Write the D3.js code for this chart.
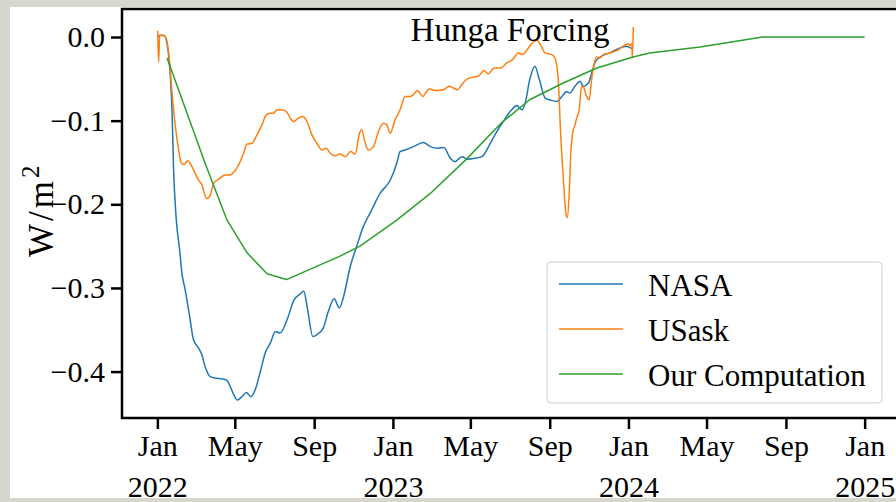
<!DOCTYPE html>
<html>
<head>
<meta charset="utf-8">
<script src="https://cdn.jsdelivr.net/npm/d3@7"></script>
<style>
  body { margin: 0; background: #d7d7cd; }
  svg { display: block; }
  text { font-family: "Liberation Serif", "Times New Roman", serif; fill: #000; }
</style>
</head>
<body>
<svg width="896" height="502"></svg>
<script>
// [days after 2022-01-01, forcing in W/m^2]
const nasa = [[0,0.000],[5,0.002],[11,0.001],[15,-0.008],[19,-0.035],[23,-0.095],[25,-0.155],[29,-0.215],[35,-0.258],[38,-0.282],
  [43,-0.302],[50,-0.334],[56,-0.362],[64,-0.372],[69,-0.380],[74,-0.394],[82,-0.406],[92,-0.408],[107,-0.410],[113,-0.418],
  [118,-0.427],[124,-0.434],[131,-0.430],[138,-0.425],[145,-0.430],[152,-0.421],[159,-0.402],[167,-0.378],[175,-0.366],[183,-0.352],
  [190,-0.354],[201,-0.338],[212,-0.314],[220,-0.308],[227,-0.304],[232,-0.322],[241,-0.358],[247,-0.356],[257,-0.348],[265,-0.328],
  [274,-0.313],[282,-0.324],[288,-0.312],[299,-0.274],[309,-0.250],[319,-0.227],[332,-0.207],[345,-0.187],[361,-0.171],[371,-0.151],
  [376,-0.137],[384,-0.135],[397,-0.131],[412,-0.126],[423,-0.131],[435,-0.133],[444,-0.132],[454,-0.145],[461,-0.149],[472,-0.143],
  [480,-0.146],[492,-0.145],[503,-0.143],[516,-0.127],[526,-0.113],[536,-0.101],[549,-0.087],[557,-0.082],[565,-0.087],[570,-0.079],
  [577,-0.051],[585,-0.035],[592,-0.051],[601,-0.073],[608,-0.075],[619,-0.077],[627,-0.071],[634,-0.065],[639,-0.067],[647,-0.059],
  [655,-0.053],[660,-0.059],[668,-0.055],[673,-0.043],[678,-0.031],[686,-0.024],[701,-0.019],[714,-0.014],[727,-0.011],[735,-0.014]];

const usask = [[0.5,0.0075],[2,-0.030],[3.6,0.002],[9.8,0.002],[13.9,-0.002],[17.5,-0.019],[22.8,-0.067],[27.9,-0.107],[33,-0.135],[37.2,-0.151],
  [41.8,-0.152],[46.9,-0.148],[52.2,-0.153],[57.3,-0.161],[63.9,-0.171],[69.2,-0.177],[72.8,-0.187],[76.9,-0.193],[82,-0.189],[87.2,-0.175],
  [94.9,-0.170],[105.3,-0.165],[111.9,-0.165],[119.2,-0.161],[125.9,-0.153],[133.6,-0.139],[138.9,-0.128],[146.6,-0.127],[154.3,-0.117],[162.1,-0.105],
  [168.7,-0.093],[174.9,-0.091],[180,-0.091],[185.3,-0.087],[193,-0.087],[200.8,-0.090],[205.9,-0.097],[211,-0.101],[218.7,-0.097],[225.5,-0.095],
  [231.7,-0.101],[239.5,-0.117],[247.2,-0.127],[255,-0.135],[261.6,-0.133],[267.8,-0.139],[275.5,-0.142],[283.3,-0.140],[291,-0.143],[299.8,-0.137],
  [306.5,-0.140],[313.2,-0.115],[316.9,-0.111],[322,-0.127],[327.1,-0.135],[334.8,-0.131],[342.6,-0.113],[350.3,-0.103],[355.6,-0.105],[360.7,-0.115],
  [368.4,-0.099],[376.2,-0.087],[383.9,-0.071],[391.6,-0.071],[396.7,-0.069],[402.9,-0.064],[411.3,-0.071],[421,-0.062],[431.9,-0.064],[443.2,-0.063],
  [452.5,-0.059],[458.7,-0.061],[464.9,-0.063],[471.7,-0.057],[480.3,-0.050],[488.7,-0.048],[497.4,-0.047],[506.2,-0.040],[512.8,-0.044],[521.7,-0.037],
  [532,-0.037],[541.3,-0.031],[550.6,-0.027],[559.3,-0.019],[566.1,-0.021],[573.2,-0.015],[580,-0.008],[587.8,-0.004],[595.5,-0.012],[600.6,-0.019],
  [611,-0.021],[616.1,-0.025],[621.2,-0.051],[624.9,-0.115],[628.9,-0.167],[633.1,-0.211],[635.1,-0.216],[638.2,-0.187],[640.4,-0.143],[643.5,-0.115],
  [647.1,-0.105],[649.7,-0.097],[653.7,-0.087],[657.4,-0.059],[661,-0.061],[665.2,-0.071],[669.2,-0.075],[672.9,-0.051],[676.5,-0.033],[680.7,-0.024],
  [685.8,-0.025],[690.9,-0.021],[701.2,-0.019],[712.5,-0.016],[721.8,-0.011],[729.6,-0.008],[732.2,-0.010],[735.3,-0.008],[736,-0.025],[737.6,0.012]];

const ours = [[15,-0.025],[46,-0.091],[75,-0.153],[108,-0.219],[139,-0.258],[170,-0.283],[200,-0.290],[283,-0.262],[314,-0.250],
  [371,-0.219],[423,-0.187],[479,-0.146],[534,-0.102],[577,-0.075],[629,-0.055],[681,-0.037],[737,-0.024],[763,-0.019],
  [841,-0.012],[938,0.000],[1096,0.000]];

const seriesNames = ['NASA', 'USask', 'Our Computation'];
const colors = ['#1f77b4', '#ff7f0e', '#2ca02c'];
const yTicks = [0, -0.1, -0.2, -0.3, -0.4];
const title = 'Hunga Forcing';

const start = new Date(2022, 0, 1);
const toDate = d => new Date(start.getTime() + d * 864e5);

const svg = d3.select('svg');
const mLeft = 122, mRight = 900, mTop = 9, mBottom = 418;
const font = 30;

svg.append('rect')
  .attr('x', 10).attr('y', 7).attr('width', 886).attr('height', 491)
  .attr('fill', 'white');

// 5% margins like matplotlib
const t0 = toDate(0), t1 = toDate(1096);
const pad = (t1 - t0) * 0.05;
const x = d3.scaleTime()
  .domain([new Date(t0 - pad), new Date(+t1 + pad)])
  .range([mLeft, mRight]);
const y = d3.scaleLinear()
  .domain([-0.4555, 0.0335])
  .range([mBottom, mTop]);

const line = d3.line()
  .x(d => x(toDate(d[0])))
  .y(d => y(d[1]));

const data = [nasa, usask, ours];
data.forEach((s, i) => {
  svg.append('path')
    .attr('d', line.curve(i === 2 ? d3.curveLinear : d3.curveMonotoneX)(s))
    .attr('fill', 'none')
    .attr('stroke', colors[i])
    .attr('stroke-width', 1.5)
    .attr('stroke-linejoin', 'round');
});

// axes
const xTicks = x.ticks(d3.timeMonth.every(4));
const xAxis = svg.append('g')
  .attr('transform', 'translate(0,' + mBottom + ')')
  .call(d3.axisBottom(x).tickValues(xTicks).tickFormat(d3.timeFormat('%b'))
    .tickSize(11).tickPadding(6).tickSizeOuter(0));
xAxis.selectAll('.tick').filter(d => d.getMonth() === 0)
  .append('text')
  .attr('y', 79)
  .attr('fill', '#000')
  .text(d => d.getFullYear());

const yAxis = svg.append('g')
  .attr('transform', 'translate(' + mLeft + ',0)')
  .call(d3.axisLeft(y).tickValues(yTicks)
    .tickFormat(d => d === 0 ? '0.0' : '\u2212' + Math.abs(d).toFixed(1))
    .tickSize(11).tickPadding(6).tickSizeOuter(0));

[xAxis, yAxis].forEach(g => {
  g.attr('font-family', null).attr('font-size', null);
  g.select('.domain').remove();
  g.selectAll('line').attr('stroke', '#000').attr('stroke-width', 2.5);
  g.selectAll('text').attr('font-size', font);
});

svg.append('rect')
  .attr('x', mLeft).attr('y', mTop)
  .attr('width', mRight - mLeft).attr('height', mBottom - mTop)
  .attr('fill', 'none').attr('stroke', '#000').attr('stroke-width', 2.5);

svg.append('text')
  .attr('x', 510).attr('y', 41)
  .attr('text-anchor', 'middle')
  .attr('font-size', 33)
  .text(title);

// y label, reads bottom to top
const yl = svg.append('text')
  .attr('transform', 'translate(53,257) rotate(-90)')
  .attr('font-size', 35);
yl.append('tspan').text('W');
yl.append('tspan').attr('dx', 3).text('/');
yl.append('tspan').attr('dx', 3).text('m');
yl.append('tspan').attr('dx', 3).attr('dy', -14).attr('font-size', 25).text('2');

// legend
const lg = svg.append('g').attr('transform', 'translate(547,262)');
lg.append('rect')
  .attr('width', 335).attr('height', 141).attr('rx', 4)
  .attr('fill', 'white').attr('fill-opacity', 0.8)
  .attr('stroke', '#cccccc').attr('stroke-width', 1);
seriesNames.forEach((name, i) => {
  const ly = 22 + i * 45;
  lg.append('line')
    .attr('x1', 12).attr('x2', 76).attr('y1', ly).attr('y2', ly)
    .attr('stroke', colors[i]).attr('stroke-width', 1.5);
  lg.append('text')
    .attr('x', 101).attr('y', ly + 12)
    .attr('font-size', 31)
    .text(name);
});
</script>
</body>
</html>
